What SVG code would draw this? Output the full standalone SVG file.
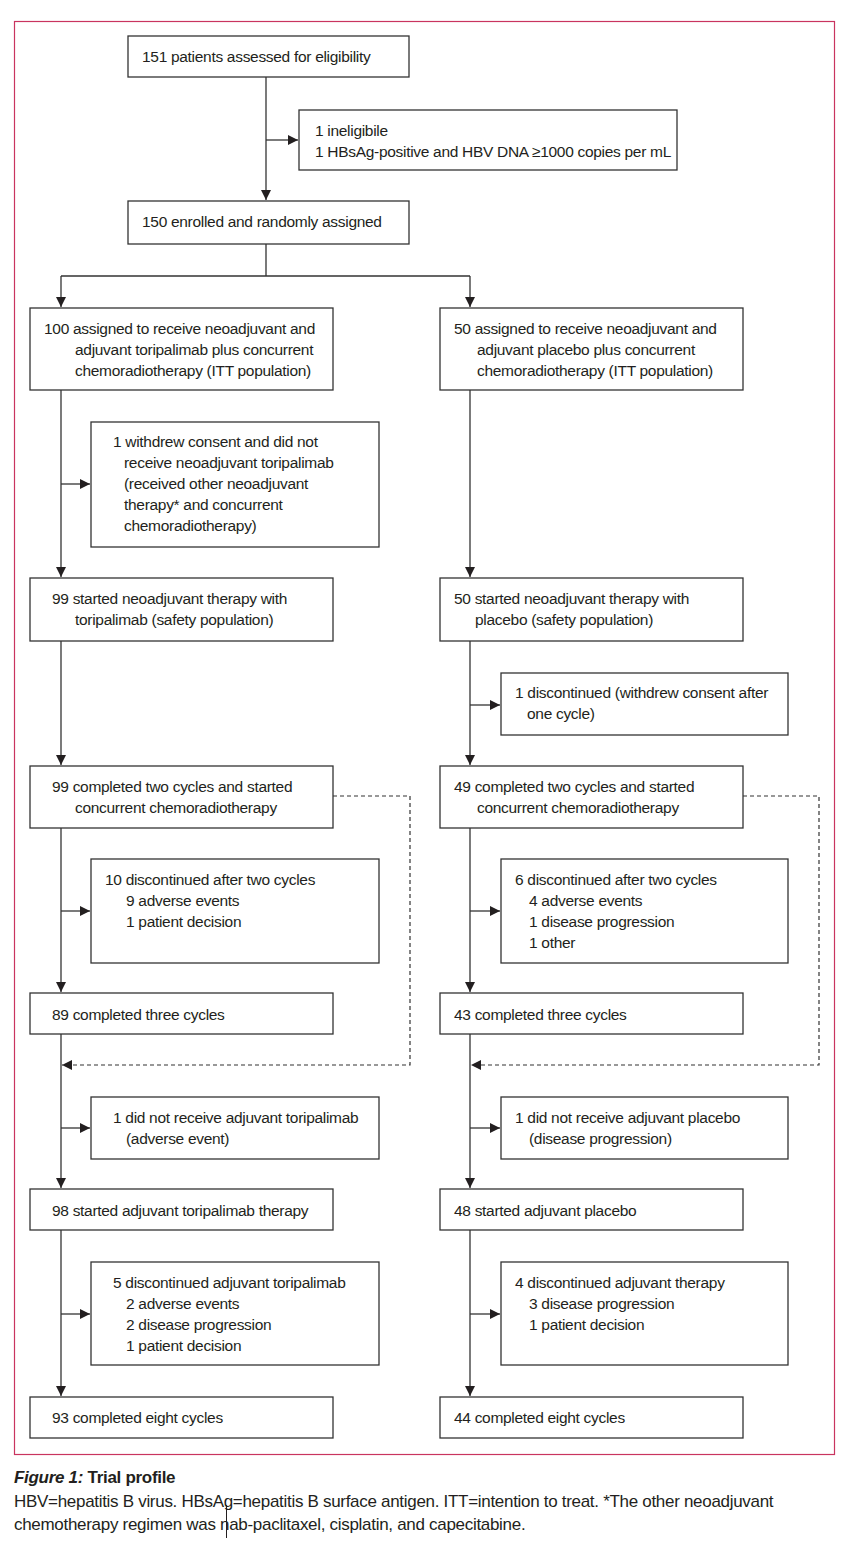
<svg xmlns="http://www.w3.org/2000/svg" width="862" height="1558" viewBox="0 0 862 1558">
<style>
.b{fill:#fff;stroke:#333;stroke-width:1.3}
.t{font-family:"Liberation Sans",Arial,sans-serif;font-size:15.5px;fill:#231f20;letter-spacing:-0.3px}
.c{fill:none;stroke:#333;stroke-width:1.3}
.d{fill:none;stroke:#333;stroke-width:1.2;stroke-dasharray:4 3}
.cap{font-family:"Liberation Sans",Arial,sans-serif;font-size:17px;fill:#231f20;letter-spacing:-0.3px}
</style>
<defs>
<marker id="a" viewBox="0 0 10 10" refX="10" refY="5" markerWidth="10" markerHeight="10" markerUnits="userSpaceOnUse" orient="auto"><path d="M0,0 L10,5 L0,10 z" fill="#231f20"/></marker>
</defs>
<rect x="14.5" y="21.5" width="820" height="1433" fill="none" stroke="#c9345f" stroke-width="1.2"/>
<g id="connectors">
<path class="c" d="M266,77 V200" marker-end="url(#a)"/>
<path class="c" d="M266,140 H298" marker-end="url(#a)"/>
<path class="c" d="M266,244 V276 M61,276 H470"/>
<path class="c" d="M61,276 V307" marker-end="url(#a)"/>
<path class="c" d="M470,276 V307" marker-end="url(#a)"/>
<path class="c" d="M61,390 V577" marker-end="url(#a)"/>
<path class="c" d="M61,484 H90" marker-end="url(#a)"/>
<path class="c" d="M470,390 V577" marker-end="url(#a)"/>
<path class="c" d="M61,641 V765" marker-end="url(#a)"/>
<path class="c" d="M470,641 V765" marker-end="url(#a)"/>
<path class="c" d="M470,705 H500" marker-end="url(#a)"/>
<path class="c" d="M61,828 V992" marker-end="url(#a)"/>
<path class="c" d="M61,911 H90" marker-end="url(#a)"/>
<path class="c" d="M470,828 V992" marker-end="url(#a)"/>
<path class="c" d="M470,911 H500" marker-end="url(#a)"/>
<path class="d" d="M333,796 H410 V1065 H62" marker-end="url(#a)"/>
<path class="d" d="M743,796 H819 V1065 H471" marker-end="url(#a)"/>
<path class="c" d="M61,1034 V1188" marker-end="url(#a)"/>
<path class="c" d="M61,1128 H90" marker-end="url(#a)"/>
<path class="c" d="M470,1034 V1188" marker-end="url(#a)"/>
<path class="c" d="M470,1128 H500" marker-end="url(#a)"/>
<path class="c" d="M61,1230 V1396" marker-end="url(#a)"/>
<path class="c" d="M61,1314 H90" marker-end="url(#a)"/>
<path class="c" d="M470,1230 V1396" marker-end="url(#a)"/>
<path class="c" d="M470,1314 H500" marker-end="url(#a)"/>
</g>
<g id="n1"><rect class="b" x="128" y="36" width="281" height="41"/><text class="t" x="142" y="62">151 patients assessed for eligibility</text></g>
<g id="n2"><rect class="b" x="299" y="110" width="378" height="60"/><text class="t" x="315" y="136">1 ineligibile</text><text class="t" x="315" y="157">1 HBsAg-positive and HBV DNA ≥1000 copies per mL</text></g>
<g id="n3"><rect class="b" x="128" y="201" width="281" height="43"/><text class="t" x="142" y="227">150 enrolled and randomly assigned</text></g>
<g id="n4"><rect class="b" x="30" y="308" width="303" height="82"/><text class="t" x="44" y="334">100 assigned to receive neoadjuvant and</text><text class="t" x="75" y="355">adjuvant toripalimab plus concurrent</text><text class="t" x="75" y="376">chemoradiotherapy (ITT population)</text></g>
<g id="n5"><rect class="b" x="440" y="308" width="303" height="82"/><text class="t" x="454" y="334">50 assigned to receive neoadjuvant and</text><text class="t" x="477" y="355">adjuvant placebo plus concurrent</text><text class="t" x="477" y="376">chemoradiotherapy (ITT population)</text></g>
<g id="n6"><rect class="b" x="91" y="422" width="288" height="125"/><text class="t" x="113" y="447">1 withdrew consent and did not</text><text class="t" x="124" y="468">receive neoadjuvant toripalimab</text><text class="t" x="124" y="489">(received other neoadjuvant</text><text class="t" x="124" y="510">therapy* and concurrent</text><text class="t" x="124" y="531">chemoradiotherapy)</text></g>
<g id="n7"><rect class="b" x="30" y="578" width="303" height="63"/><text class="t" x="52" y="604">99 started neoadjuvant therapy with</text><text class="t" x="75" y="625">toripalimab (safety population)</text></g>
<g id="n8"><rect class="b" x="440" y="578" width="303" height="63"/><text class="t" x="454" y="604">50 started neoadjuvant therapy with</text><text class="t" x="475" y="625">placebo (safety population)</text></g>
<g id="n9"><rect class="b" x="501" y="673" width="287" height="62"/><text class="t" x="515" y="698">1 discontinued (withdrew consent after</text><text class="t" x="527" y="719">one cycle)</text></g>
<g id="n10"><rect class="b" x="30" y="766" width="303" height="62"/><text class="t" x="52" y="792">99 completed two cycles and started</text><text class="t" x="75" y="813">concurrent chemoradiotherapy</text></g>
<g id="n11"><rect class="b" x="440" y="766" width="303" height="62"/><text class="t" x="454" y="792">49 completed two cycles and started</text><text class="t" x="477" y="813">concurrent chemoradiotherapy</text></g>
<g id="n12"><rect class="b" x="91" y="859" width="288" height="104"/><text class="t" x="105" y="885">10 discontinued after two cycles</text><text class="t" x="126" y="906">9 adverse events</text><text class="t" x="126" y="927">1 patient decision</text></g>
<g id="n13"><rect class="b" x="501" y="859" width="287" height="104"/><text class="t" x="515" y="885">6 discontinued after two cycles</text><text class="t" x="529" y="906">4 adverse events</text><text class="t" x="529" y="927">1 disease progression</text><text class="t" x="529" y="948">1 other</text></g>
<g id="n14"><rect class="b" x="30" y="993" width="303" height="41"/><text class="t" x="52" y="1020">89 completed three cycles</text></g>
<g id="n15"><rect class="b" x="440" y="993" width="303" height="41"/><text class="t" x="454" y="1020">43 completed three cycles</text></g>
<g id="n16"><rect class="b" x="91" y="1097" width="288" height="62"/><text class="t" x="113" y="1123">1 did not receive adjuvant toripalimab</text><text class="t" x="126" y="1144">(adverse event)</text></g>
<g id="n17"><rect class="b" x="501" y="1097" width="287" height="62"/><text class="t" x="515" y="1123">1 did not receive adjuvant placebo</text><text class="t" x="529" y="1144">(disease progression)</text></g>
<g id="n18"><rect class="b" x="30" y="1189" width="303" height="41"/><text class="t" x="52" y="1216">98 started adjuvant toripalimab therapy</text></g>
<g id="n19"><rect class="b" x="440" y="1189" width="303" height="41"/><text class="t" x="454" y="1216">48 started adjuvant placebo</text></g>
<g id="n20"><rect class="b" x="91" y="1262" width="288" height="103"/><text class="t" x="113" y="1288">5 discontinued adjuvant toripalimab</text><text class="t" x="126" y="1309">2 adverse events</text><text class="t" x="126" y="1330">2 disease progression</text><text class="t" x="126" y="1351">1 patient decision</text></g>
<g id="n21"><rect class="b" x="501" y="1262" width="287" height="103"/><text class="t" x="515" y="1288">4 discontinued adjuvant therapy</text><text class="t" x="529" y="1309">3 disease progression</text><text class="t" x="529" y="1330">1 patient decision</text></g>
<g id="n22"><rect class="b" x="30" y="1397" width="303" height="41"/><text class="t" x="52" y="1423">93 completed eight cycles</text></g>
<g id="n23"><rect class="b" x="440" y="1397" width="303" height="41"/><text class="t" x="454" y="1423">44 completed eight cycles</text></g>
<g id="caption">
<text class="cap" x="14" y="1483" font-weight="bold"><tspan font-style="italic">Figure 1:</tspan> Trial profile</text>
<text class="cap" x="14" y="1507">HBV=hepatitis B virus. HBsAg=hepatitis B surface antigen. ITT=intention to treat. *The other neoadjuvant</text>
<text class="cap" x="14" y="1530">chemotherapy regimen was nab-paclitaxel, cisplatin, and capecitabine.</text>
<line x1="226.5" y1="1505" x2="226.5" y2="1538" stroke="#231f20" stroke-width="1"/>
</g>
</svg>
